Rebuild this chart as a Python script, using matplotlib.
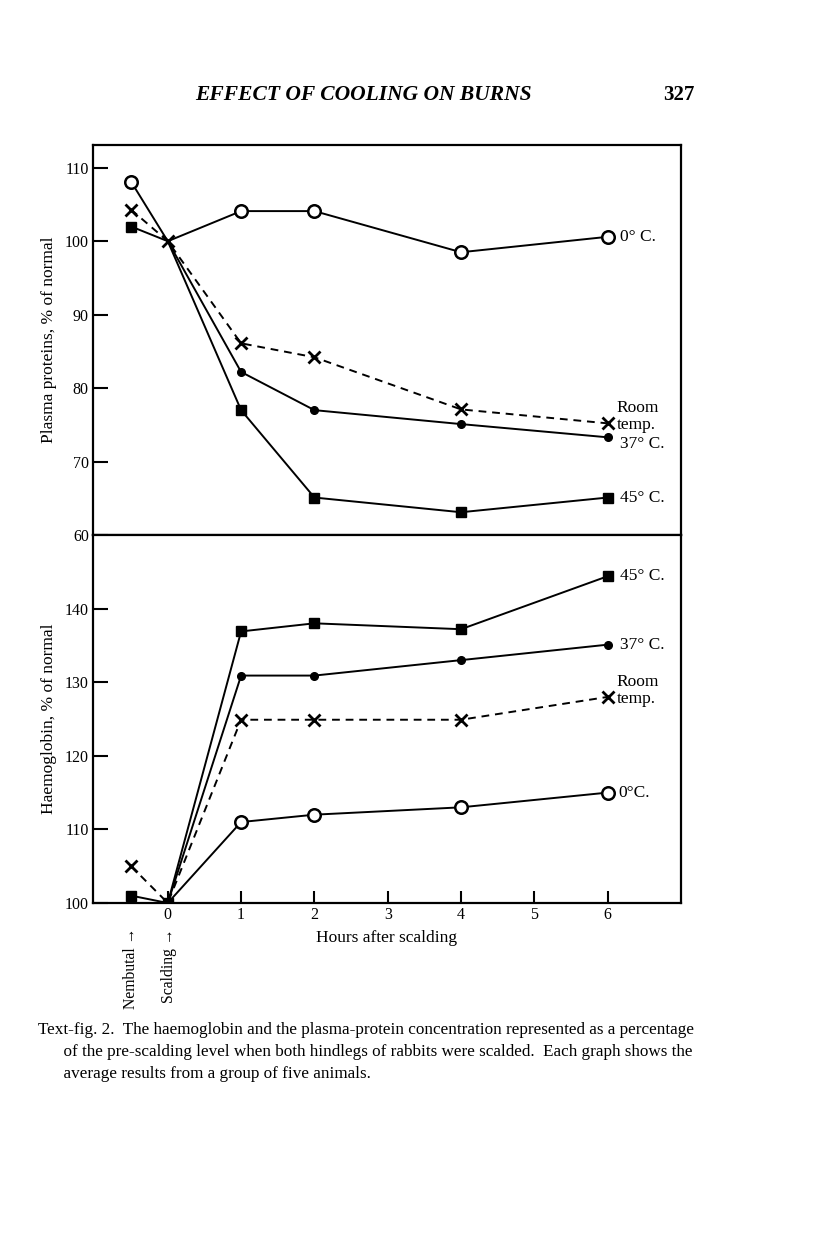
import matplotlib
matplotlib.use("Agg")
import matplotlib.pyplot as plt

plt.rcParams["font.family"] = ["Liberation Serif", "DejaVu Serif"]

# hours after scalding (-0.5 = after Nembutal, before scalding)
HOURS = [-0.5, 0, 1, 2, 4, 6]

# plasma proteins, % of normal
PP_0C = [108.1, 100, 104.1, 104.1, 98.5, 100.6]
PP_ROOM = [104.3, 100, 86.1, 84.2, 77.1, 75.2]
PP_37C = [None, 100, 82.2, 77.0, 75.1, 73.3]
PP_45C = [102.0, 100, 77.0, 65.1, 63.1, 65.1]

# haemoglobin, % of normal
HB_45C = [101.0, 100, 136.9, 138.0, 137.2, 144.4]
HB_37C = [None, 100, 130.9, 130.9, 133.0, 135.1]
HB_ROOM = [105.0, 100, 124.9, 124.9, 124.9, 128.0]
HB_0C = [None, 100, 111.0, 112.0, 113.0, 115.0]

X_TICKS = [0, 1, 2, 3, 4, 5, 6]
PP_TICKS = [60, 70, 80, 90, 100, 110]
HB_TICKS = [100, 110, 120, 130, 140]

W, H = 816, 1258


def fx(px):
    return px / W


def fy(py):
    return 1 - py / H


STYLES = {
    "0C": dict(marker="o", ms=9, mfc="white", mec="black", mew=1.8, ls="-"),
    "room": dict(marker="x", ms=8, mec="black", mew=2.0, ls=(0, (4, 3))),
    "37C": dict(marker="o", ms=5.5, mfc="black", mec="black", ls="-"),
    "45C": dict(marker="s", ms=6.5, mfc="black", mec="black", ls="-"),
}


def plot_series(ax, ys, key, mark_zero=True):
    pts = [(h, v) for h, v in zip(HOURS, ys) if v is not None]
    xs = [p[0] for p in pts]
    vs = [p[1] for p in pts]
    every = [i for i, x in enumerate(xs) if mark_zero or x != 0]
    ax.plot(xs, vs, color="black", lw=1.4, zorder=3, markevery=every, **STYLES[key])


def style_axes(ax):
    for s in ax.spines.values():
        s.set_linewidth(1.6)
    ax.tick_params(direction="in", length=11, width=1.5, labelsize=11.5, pad=3)


fig = plt.figure(figsize=(W / 100, H / 100), dpi=100)

ax_top = fig.add_axes([fx(93), fy(535), fx(681) - fx(93), fy(145) - fy(535)])
ax_bot = fig.add_axes([fx(93), fy(903), fx(681) - fx(93), fy(535) - fy(903)])

plot_series(ax_top, PP_0C, "0C", mark_zero=False)
plot_series(ax_top, PP_ROOM, "room")
plot_series(ax_top, PP_37C, "37C", mark_zero=False)
plot_series(ax_top, PP_45C, "45C", mark_zero=False)

plot_series(ax_bot, HB_45C, "45C")
plot_series(ax_bot, HB_37C, "37C", mark_zero=False)
plot_series(ax_bot, HB_ROOM, "room", mark_zero=False)
plot_series(ax_bot, HB_0C, "0C", mark_zero=False)

ax_top.set_xlim(-1.02, 7.0)
ax_top.set_ylim(60, 113.1)
ax_top.set_yticks(PP_TICKS)
ax_top.set_xticks([])
style_axes(ax_top)

ax_bot.set_xlim(-1.02, 7.0)
ax_bot.set_ylim(100, 150)
ax_bot.set_yticks(HB_TICKS)
ax_bot.set_xticks(X_TICKS)
style_axes(ax_bot)
ax_bot.tick_params(axis="x", length=9, pad=3)

ax_w = fx(681) - fx(93)
ax_top.set_ylabel("Plasma proteins, % of normal", fontsize=12.5)
ax_bot.set_ylabel("Haemoglobin, % of normal", fontsize=12.5)
# label anchor is the right edge of the rotated text
ax_top.yaxis.set_label_coords((fx(57) - fx(93)) / ax_w, 0.5)
ax_bot.yaxis.set_label_coords((fx(57) - fx(93)) / ax_w, 0.5)
ax_bot.set_xlabel("Hours after scalding", fontsize=12.5, labelpad=5)

lab = dict(fontsize=12.5, va="center", ha="left")
ax_top.text(6.17, PP_0C[-1], "0° C.", **lab)
ax_top.text(6.12, PP_ROOM[-1] + 0.9, "Room\ntemp.", fontsize=12.5, va="center", ha="left",
            linespacing=1.05)
ax_top.text(6.17, PP_37C[-1] - 0.9, "37° C.", **lab)
ax_top.text(6.17, PP_45C[-1], "45° C.", **lab)

ax_bot.text(6.17, HB_45C[-1], "45° C.", **lab)
ax_bot.text(6.17, HB_37C[-1], "37° C.", **lab)
ax_bot.text(6.12, HB_ROOM[-1] + 0.9, "Room\ntemp.", fontsize=12.5, va="center", ha="left",
            linespacing=1.05)
ax_bot.text(6.15, HB_0C[-1], "0°C.", **lab)

# page header
fig.text(fx(363), fy(95), "EFFECT OF COOLING ON BURNS", fontsize=15.5, style="italic",
         fontweight="bold", ha="center", va="center")
fig.text(fx(679), fy(95), "327", fontsize=15, fontweight="bold", ha="center", va="center")

# event markers under the axis
fig.text(fx(131), fy(928), "Nembutal →", rotation=90, fontsize=11.3, ha="center", va="top")
fig.text(fx(169), fy(928), "Scalding →", rotation=90, fontsize=11.3, ha="center", va="top")

caption = ("Text-fig. 2.  The haemoglobin and the plasma-protein concentration represented as a percentage\n"
           "      of the pre-scalding level when both hindlegs of rabbits were scalded.  Each graph shows the\n"
           "      average results from a group of five animals.")
fig.text(fx(38), fy(1022), caption, fontsize=12.3, ha="left", va="top", linespacing=1.48)

fig.savefig("out.png", dpi=100)
